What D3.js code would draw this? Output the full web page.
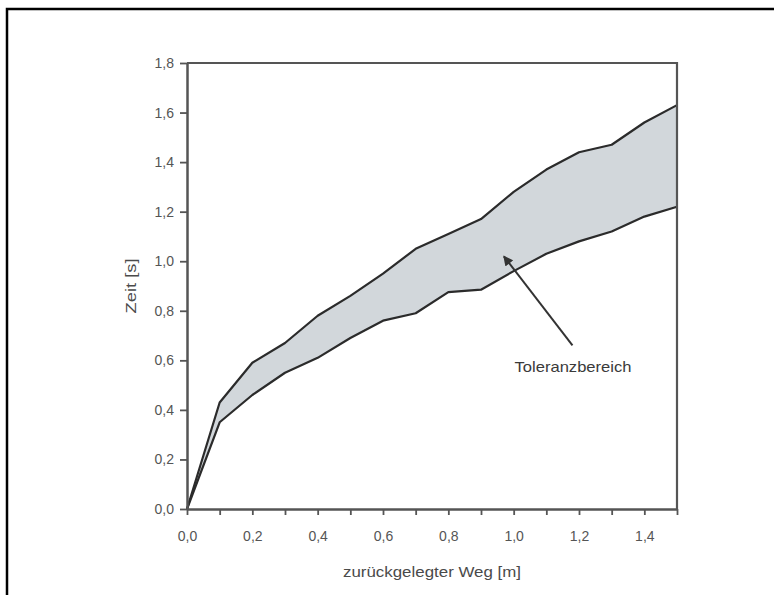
<!DOCTYPE html>
<html>
<head>
<meta charset="utf-8">
<script src="https://cdn.jsdelivr.net/npm/d3@7"></script>
<style>
  html, body { margin: 0; padding: 0; background: #fff; }
  svg { display: block; }
  text { font-family: "Liberation Sans", Arial, sans-serif; }
</style>
</head>
<body>
<script>
// ---- data ----
const distance = [0, 0.1, 0.2, 0.3, 0.4, 0.5, 0.6, 0.7, 0.8, 0.9, 1.0, 1.1, 1.2, 1.3, 1.4, 1.5];
const upperTime = [0, 0.43, 0.59, 0.67, 0.78, 0.86, 0.95, 1.05, 1.11, 1.17, 1.28, 1.37, 1.44, 1.47, 1.56, 1.63];
const lowerTime = [0, 0.35, 0.46, 0.55, 0.61, 0.69, 0.76, 0.79, 0.875, 0.885, 0.96, 1.03, 1.08, 1.12, 1.18, 1.22];
const xTickValues = [0, 0.1, 0.2, 0.3, 0.4, 0.5, 0.6, 0.7, 0.8, 0.9, 1.0, 1.1, 1.2, 1.3, 1.4, 1.5];
const xLabelValues = [0, 0.2, 0.4, 0.6, 0.8, 1.0, 1.2, 1.4];
const yTickValues = [0, 0.2, 0.4, 0.6, 0.8, 1.0, 1.2, 1.4, 1.6, 1.8];
const xTitle = "zurückgelegter Weg [m]";
const yTitle = "Zeit [s]";
const annotationText = "Toleranzbereich";
const annotationTarget = [0.97, 1.02];   // data coords arrow tip
const annotationTail = [1.18, 0.66];     // data coords arrow tail

const W = 774, H = 595;
const svg = d3.select("body").append("svg").attr("width", W).attr("height", H);

// outer frame (top, left; bottom/right cut off)
svg.append("path")
  .attr("d", `M7,${H} L7,9 L${W},9`)
  .attr("fill", "none").attr("stroke", "#000").attr("stroke-width", 2.5);

const x = d3.scaleLinear().domain([0, 1.5]).range([187, 677]);
const y = d3.scaleLinear().domain([0, 1.8]).range([509, 63]);

const fmt = v => d3.format(".1f")(v).replace(".", ",");
const axisColor = "#555";
const labelColor = "#555";

const g = svg.append("g");

// band fill
const rows = distance.map((d, i) => ({ d, lo: lowerTime[i], hi: upperTime[i] }));
g.append("path")
  .datum(rows)
  .attr("d", d3.area().x(r => x(r.d)).y0(r => y(r.lo)).y1(r => y(r.hi)))
  .attr("fill", "#d2d7db");

// boundary lines
[upperTime, lowerTime].forEach(series => {
  g.append("path")
    .datum(distance.map((d, i) => [d, series[i]]))
    .attr("d", d3.line().x(p => x(p[0])).y(p => y(p[1])))
    .attr("fill", "none").attr("stroke", "#2b2b2b").attr("stroke-width", 2.2)
    .attr("stroke-linejoin", "round");
});

// plot frame top & right
g.append("path")
  .attr("d", `M${x(0)},${y(1.8)} L${x(1.5)},${y(1.8)} L${x(1.5)},${y(0)}`)
  .attr("fill", "none").attr("stroke", axisColor).attr("stroke-width", 2.2);

// x axis
const xAxis = g.append("g").attr("transform", `translate(0,${y(0)})`)
  .call(d3.axisBottom(x).tickValues(xTickValues).tickSize(6).tickSizeOuter(0).tickFormat(() => ""));
xAxis.select(".domain").attr("stroke", axisColor).attr("stroke-width", 2.5);
xAxis.selectAll(".tick line").attr("stroke", axisColor).attr("stroke-width", 1.8);

const xLabels = g.append("g").attr("transform", `translate(0,${y(0)})`)
  .call(d3.axisBottom(x).tickValues(xLabelValues).tickSize(0).tickPadding(22).tickFormat(fmt));
xLabels.select(".domain").remove();
xLabels.selectAll("text").attr("fill", labelColor).style("font-size", "14px");

// y axis
const yAxis = g.append("g").attr("transform", `translate(${x(0)},0)`)
  .call(d3.axisLeft(y).tickValues(yTickValues).tickSize(7).tickSizeOuter(0).tickPadding(6).tickFormat(fmt));
yAxis.select(".domain").attr("stroke", axisColor).attr("stroke-width", 2.5);
yAxis.selectAll(".tick line").attr("stroke", axisColor).attr("stroke-width", 1.8);
yAxis.selectAll("text").attr("fill", labelColor).style("font-size", "14px");

// axis titles
svg.append("text")
  .attr("x", (x(0) + x(1.5)) / 2).attr("y", 577)
  .attr("text-anchor", "middle").attr("fill", "#4a4a4a")
  .attr("textLength", 178).attr("lengthAdjust", "spacingAndGlyphs")
  .style("font-size", "15px").text(xTitle);

svg.append("text")
  .attr("transform", `translate(136,${(y(0) + y(1.8)) / 2}) rotate(-90)`)
  .attr("text-anchor", "middle").attr("fill", "#4a4a4a")
  .attr("textLength", 55).attr("lengthAdjust", "spacingAndGlyphs")
  .style("font-size", "15px").text(yTitle);

// annotation arrow
svg.append("defs").append("marker")
  .attr("id", "ah").attr("viewBox", "0 0 10 10").attr("refX", 9).attr("refY", 5)
  .attr("markerWidth", 5).attr("markerHeight", 5).attr("orient", "auto")
  .append("path").attr("d", "M0,0 L10,5 L0,10 z").attr("fill", "#333");

svg.append("line")
  .attr("x1", x(annotationTail[0])).attr("y1", y(annotationTail[1]))
  .attr("x2", x(annotationTarget[0])).attr("y2", y(annotationTarget[1]))
  .attr("stroke", "#333").attr("stroke-width", 2).attr("marker-end", "url(#ah)");

svg.append("text")
  .attr("x", 573).attr("y", 372)
  .attr("text-anchor", "middle").attr("fill", "#3a3a3a")
  .attr("textLength", 117).attr("lengthAdjust", "spacingAndGlyphs")
  .style("font-size", "15px").text(annotationText);
</script>
</body>
</html>
